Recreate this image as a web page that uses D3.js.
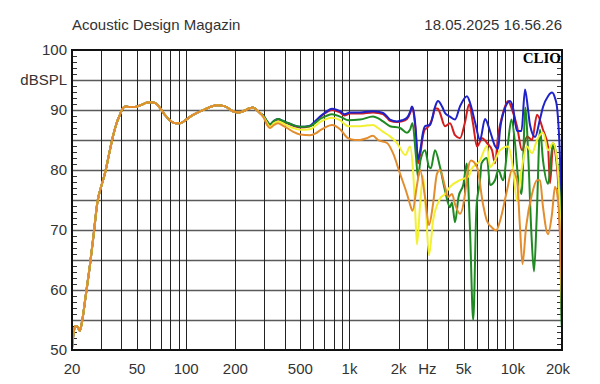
<!DOCTYPE html>
<html>
<head>
<meta charset="utf-8">
<script src="https://cdn.jsdelivr.net/npm/d3@7"></script>
<style>
  html, body { margin: 0; padding: 0; background: #fff; }
  svg { display: block; }
  text { font-family: "Liberation Sans", Arial, sans-serif; fill: #333; }
</style>
</head>
<body>
<div id="chart"></div>
<script>
// header texts
const titleLeft = "Acoustic Design Magazin";
const titleRight = "18.05.2025 16.56.26";
const yUnit = "dBSPL";

// axis labels
const yTickValues = [50, 60, 70, 80, 90, 100];
const xTickLabels = [[20, "20"], [50, "50"], [100, "100"], [200, "200"], [500, "500"], [1000, "1k"],
    [2000, "2k"], [3000, "Hz"], [5000, "5k"], [10000, "10k"], [20000, "20k"]];
const xGridFreqs = [30, 40, 50, 60, 70, 80, 90, 100, 200, 300, 400, 500, 600, 700, 800, 900, 1000,
    2000, 3000, 4000, 5000, 6000, 7000, 8000, 9000, 10000, 20000];

// shared low-frequency part (all five curves overlap), [Hz, dB]
const lowShared = [[20, 50.3], [20.5, 53.0], [21.0, 54.0], [21.6, 53.9], [22.3, 53.2], [23.0, 54.6],
    [24.2, 58.8], [25.8, 64.3], [27.2, 69.5], [28.6, 74.6], [30.3, 77.4], [31.8, 79.4], [33.7, 82.6],
    [35.6, 85.6], [37.5, 87.8], [39.3, 89.2], [41, 90.3], [42.5, 90.6], [45, 90.5], [48.6, 90.5],
    [53.7, 90.9], [57, 91.2], [60, 91.3], [64, 91.2], [67, 90.8], [74, 89.2], [80, 88.2], [86, 87.8],
    [92, 87.8], [99, 88.3], [106, 88.9], [118, 89.6], [130, 90.1], [154, 90.8], [173, 90.6], [193, 89.8],
    [210, 89.6], [223, 89.8], [245, 90.3], [257, 90.4], [270, 90.0], [283, 89.5]];

const redResp = [[300, 88.8], [313, 88.0], [326, 87.5], [345, 88.1], [365, 88.4], [390, 88.1], [414, 87.8],
    [450, 87.4], [498, 87.1], [573, 87.3], [620, 88.1], [660, 88.8], [720, 89.6], [781, 90.0], [840, 89.8],
    [875, 89.6], [930, 89.1], [1007, 89.4], [1160, 89.4], [1393, 89.6], [1500, 89.5], [1604, 89.3],
    [1700, 88.7], [1770, 88.2], [1953, 88.0], [2100, 88.1], [2249, 88.5], [2360, 89.6], [2412, 90.4],
    [2480, 89.2], [2540, 86.5], [2627, 81.1], [2720, 82.8], [2820, 85.8], [2900, 86.8], [2982, 87.0],
    [3246, 89], [3338, 90.3], [3480, 90.2], [3582, 89.5], [3844, 87.3], [4124, 87.8], [4426, 85.8],
    [4748, 85.3], [5100, 88], [5390, 90.9], [5700, 87.8], [6036, 83.9], [6500, 85.3], [6948, 84.5],
    [7456, 83.3], [7778, 81.1], [8114, 85.6], [8708, 89.5], [9342, 91.5], [9882, 90.1], [10604, 87.3],
    [11380, 83.3], [12214, 85.6], [13106, 85.0], [14064, 89.2], [15304, 86.7], [16422, 83.9], [16890, 77.8],
    [17618, 83.9], [18638, 80.5], [19400, 70], [19700, 62], [20000, 55]];

const blueResp = [[300, 88.9], [313, 88.1], [326, 87.6], [345, 88.2], [365, 88.5], [390, 88.2], [414, 87.9],
    [450, 87.5], [498, 87.2], [573, 87.4], [620, 88.2], [660, 88.9], [720, 89.7], [781, 90.2], [840, 90.0],
    [875, 89.8], [930, 89.3], [1007, 89.6], [1160, 89.6], [1393, 89.8], [1500, 89.7], [1604, 89.5],
    [1700, 88.9], [1770, 88.4], [1953, 88.1], [2100, 88.3], [2249, 88.7], [2360, 89.8], [2412, 90.6],
    [2480, 89.5], [2540, 87], [2627, 81.8], [2720, 83.5], [2820, 86.3], [2900, 87.3], [3112, 87.5],
    [3338, 90.5], [3480, 91.5], [3700, 90.5], [3844, 89.5], [4124, 88.9], [4426, 88.4], [4748, 90.6],
    [5240, 92.3], [5500, 91.0], [5868, 88.0], [6296, 85.0], [6756, 88.5], [7248, 86.5], [7778, 84.0],
    [8114, 83.5], [8346, 86.7], [8954, 90.3], [9608, 91.5], [10000, 90.5], [10604, 86.5], [11300, 86.5],
    [11872, 93.4], [12400, 90], [12742, 87.5], [13672, 85.5], [14670, 88.5], [15304, 90.5], [16422, 92.3],
    [17372, 92.9], [18122, 92.0], [18638, 90.5], [19444, 82], [19720, 76.6], [20000, 71]];

const greenResp = [[300, 88.9], [313, 88.1], [326, 87.6], [345, 88.2], [365, 88.5], [390, 88.2], [414, 87.9],
    [450, 87.5], [498, 87.2], [573, 87.3], [620, 87.9], [660, 88.5], [720, 89.0], [781, 89.3], [875, 88.9],
    [979, 88.3], [1160, 88.4], [1393, 88.9], [1500, 88.6], [1604, 88.1], [1770, 87.3], [2038, 87.0],
    [2249, 86.2], [2346, 86.7], [2430, 87.8], [2554, 82.2], [2627, 78.8], [2720, 81.6], [2900, 83.3],
    [3068, 80.5], [3150, 80.3], [3338, 83.3], [3582, 80.5], [3844, 76.6], [4124, 73.8], [4242, 74.6],
    [4426, 71.3], [4650, 75.5], [4990, 77.7], [5220, 81.1], [5470, 69.9], [5720, 55], [5990, 73.8],
    [6296, 78.3], [6430, 81.1], [6948, 82.0], [7248, 77.5], [7778, 78.3], [8150, 80.0], [8708, 78.3],
    [9342, 84.5], [9800, 88.4], [10310, 84.5], [10756, 78.8], [11300, 76.0], [11950, 90.4], [12388, 83.3],
    [13000, 69.3], [13480, 63.1], [14000, 72.1], [14670, 86.7], [15304, 81.6], [16422, 77.7], [17618, 84.5],
    [18500, 82.2], [19444, 74.9], [19850, 55.3], [20000, 53.6]];

const yellowResp = [[300, 88.7], [313, 87.8], [326, 87.2], [345, 87.8], [365, 88.1], [390, 87.8], [414, 87.4],
    [450, 87.0], [498, 86.7], [573, 86.8], [620, 87.4], [660, 88.0], [720, 88.5], [781, 88.7], [875, 88.3],
    [979, 87.3], [1160, 87.3], [1393, 87.5], [1494, 87.0], [1600, 86.4], [1770, 85.6], [1953, 84.5],
    [2200, 82.5], [2346, 83.9], [2448, 80.0], [2518, 73.8], [2590, 67.6], [2702, 74], [2818, 79], [2940, 73],
    [3068, 65.8], [3246, 71.5], [3582, 75.2], [3844, 76.0], [4124, 77.2], [4748, 78.3], [5390, 79],
    [5546, 80.0], [6296, 81.6], [6948, 84.0], [7248, 80.5], [7778, 81.6], [8346, 83.3], [9342, 83.9],
    [10000, 80.5], [10604, 74.9], [11300, 80.0], [12214, 83.9], [13106, 82.8], [14064, 85.0], [15304, 86.2],
    [16422, 83.3], [17618, 84.5], [18638, 81.6], [19444, 72.1], [19850, 60.9], [20000, 57]];

const orangeResp = [[300, 88.6], [313, 87.5], [326, 87.0], [345, 87.5], [365, 87.8], [390, 87.4], [414, 87.0],
    [450, 86.4], [498, 85.9], [573, 85.8], [620, 86.1], [660, 86.6], [720, 87.2], [781, 87.5], [875, 86.8],
    [979, 85.3], [1080, 85.0], [1160, 85.0], [1274, 85.3], [1393, 85.7], [1494, 85.0], [1697, 84.5],
    [1847, 82.8], [2038, 79.4], [2249, 76.0], [2346, 74.3], [2430, 73.2], [2590, 77.5], [2702, 80.0],
    [2900, 75.5], [3068, 70.8], [3246, 74.3], [3434, 79.4], [3582, 80.0], [3844, 77.2], [4009, 75.5],
    [4242, 76.0], [4426, 74.3], [4748, 72.7], [5096, 76.0], [5300, 80.0], [5546, 81.6], [6036, 80.5],
    [6568, 74.3], [6948, 71.5], [7456, 70.4], [7900, 69.9], [8346, 71.5], [9212, 76.6], [9882, 80.0],
    [10604, 78.3], [11064, 70.4], [11460, 64.3], [12042, 70.4], [13106, 76.0], [14064, 78.3], [14670, 78.3],
    [15304, 73.8], [16422, 69.3], [17372, 72.7], [18122, 77.2], [18902, 74.9], [19720, 64.8], [20000, 58]];

const series = [
    { name: "red", color: "#d41e1e", data: lowShared.concat(redResp) },
    { name: "blue", color: "#1e22c8", data: lowShared.concat(blueResp) },
    { name: "green", color: "#1f8a22", data: lowShared.concat(greenResp) },
    { name: "yellow", color: "#f2f032", data: lowShared.concat(yellowResp) },
    { name: "orange", color: "#e38d2e", data: lowShared.concat(orangeResp) }
];

const width = 600, height = 384;
const plot = { left: 72, right: 562, top: 50, bottom: 350 };

const svg = d3.select("#chart").append("svg")
    .attr("width", width)
    .attr("height", height);

const x = d3.scaleLog().domain([20, 20000]).range([plot.left, plot.right]);
const y = d3.scaleLinear().domain([50, 100]).range([plot.bottom, plot.top]);

// horizontal grid every 5 dB
svg.append("g").selectAll("line")
    .data(d3.range(55, 100, 5))
    .enter().append("line")
    .attr("x1", plot.left).attr("x2", plot.right)
    .attr("y1", d => Math.round(y(d)) + 0.5).attr("y2", d => Math.round(y(d)) + 0.5)
    .attr("stroke", "#5a5a5a")
    .attr("stroke-width", 1.5);

// vertical grid
svg.append("g").selectAll("line")
    .data(xGridFreqs)
    .enter().append("line")
    .attr("x1", d => Math.round(x(d)) + 0.5).attr("x2", d => Math.round(x(d)) + 0.5)
    .attr("y1", plot.top).attr("y2", plot.bottom)
    .attr("stroke", "#222")
    .attr("stroke-width", 1);

// minor ticks every dB on both sides
const minor = d3.range(51, 100).filter(d => d % 5 !== 0);
svg.append("g").selectAll("line")
    .data(minor)
    .enter().append("line")
    .attr("x1", plot.left).attr("x2", plot.left + 5)
    .attr("y1", d => Math.round(y(d)) + 0.5).attr("y2", d => Math.round(y(d)) + 0.5)
    .attr("stroke", "#333");
svg.append("g").selectAll("line")
    .data(minor)
    .enter().append("line")
    .attr("x1", plot.right - 5).attr("x2", plot.right)
    .attr("y1", d => Math.round(y(d)) + 0.5).attr("y2", d => Math.round(y(d)) + 0.5)
    .attr("stroke", "#333");

// curves
svg.append("clipPath").attr("id", "clip")
    .append("rect")
    .attr("x", plot.left).attr("y", plot.top)
    .attr("width", plot.right - plot.left).attr("height", plot.bottom - plot.top);

const line = d3.line()
    .x(d => x(d[0]))
    .y(d => y(d[1]))
    .curve(d3.curveMonotoneX);

svg.append("g").attr("clip-path", "url(#clip)")
    .selectAll("path")
    .data(series)
    .enter().append("path")
    .attr("d", d => line(d.data))
    .attr("fill", "none")
    .attr("stroke", d => d.color)
    .attr("stroke-width", 2)
    .attr("stroke-linejoin", "round");

// frame
svg.append("rect")
    .attr("x", plot.left).attr("y", plot.top)
    .attr("width", plot.right - plot.left).attr("height", plot.bottom - plot.top)
    .attr("fill", "none")
    .attr("stroke", "#111")
    .attr("stroke-width", 2);

// y labels
svg.append("g").selectAll("text")
    .data(yTickValues)
    .enter().append("text")
    .attr("x", plot.left - 5)
    .attr("y", d => y(d) + 5)
    .attr("text-anchor", "end")
    .attr("font-size", 15)
    .text(d => d);

svg.append("text")
    .attr("x", plot.left - 5)
    .attr("y", y(95) + 5)
    .attr("text-anchor", "end")
    .attr("font-size", 15)
    .text(yUnit);

// x labels
svg.append("g").selectAll("text")
    .data(xTickLabels)
    .enter().append("text")
    .attr("x", d => d[0] === 20000 ? x(d[0]) - 4 : x(d[0]))
    .attr("y", plot.bottom + 24)
    .attr("text-anchor", "middle")
    .attr("font-size", 15)
    .text(d => d[1]);

// header
svg.append("text")
    .attr("x", plot.left)
    .attr("y", 30)
    .attr("font-size", 15)
    .text(titleLeft);

svg.append("text")
    .attr("x", plot.right)
    .attr("y", 30)
    .attr("text-anchor", "end")
    .attr("font-size", 15)
    .text(titleRight);

svg.append("text")
    .attr("x", plot.right - 1)
    .attr("y", plot.top + 13)
    .attr("text-anchor", "end")
    .attr("font-size", 15)
    .attr("font-weight", "bold")
    .style("font-family", "'Liberation Serif', 'Times New Roman', serif")
    .style("fill", "#000")
    .text("CLIO");
</script>
</body>
</html>
